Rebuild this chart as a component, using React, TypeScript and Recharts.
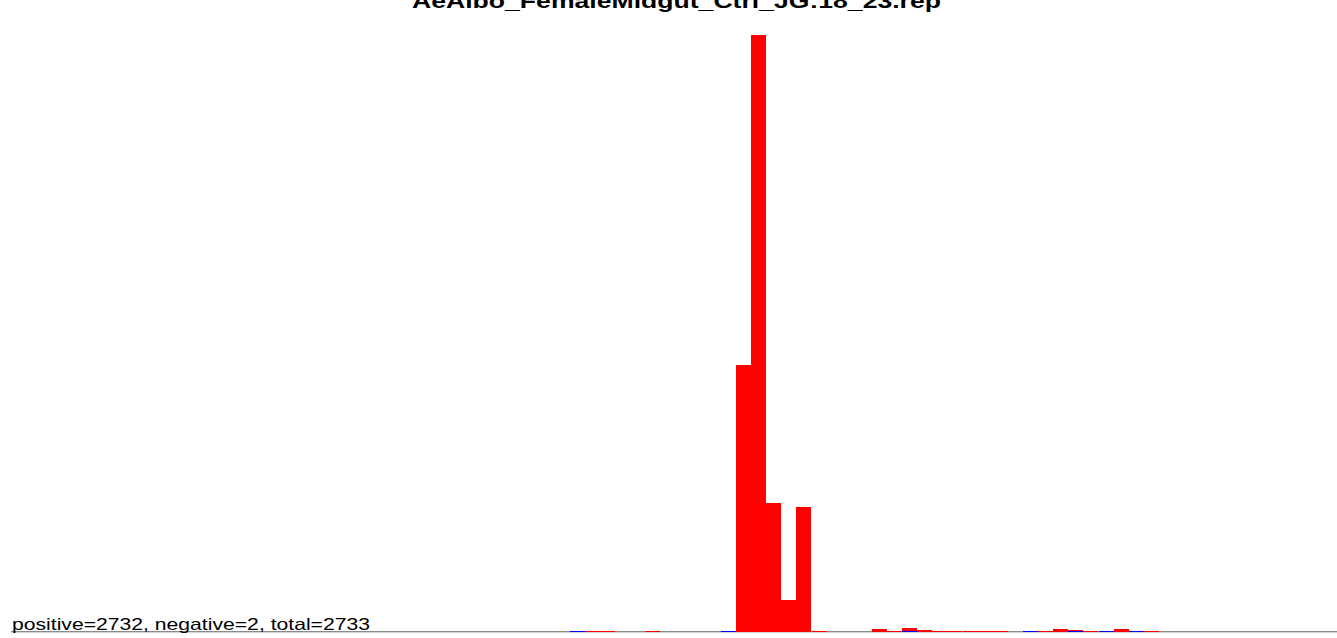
import React from 'react';
import { BarChart, Bar, XAxis, YAxis } from 'recharts';

// Bin counts (red, positive) for 88 equal-width bins
const positiveCounts: number[] = [
  0, 0, 0, 0, 0, 0, 0, 0, 0, 0,
  0, 0, 0, 0, 0, 0, 0, 0, 0, 0,
  0, 0, 0, 0, 0, 0, 0, 0, 0, 0,
  0, 0, 0, 0, 0, 0, 0, 0, 1, 1,
  0, 0, 1, 0, 0, 0, 0, 0, 623, 1395,
  300, 73, 290, 1, 0, 0, 0, 7, 1, 9,
  4, 1, 1, 1, 1, 1, 0, 0, 1, 7,
  4, 1, 0, 7, 0, 1, 0, 0, 0, 0,
  0, 0, 0, 0, 0, 0, 0, 0,
];

// Blue baseline markers
const blueMarks: number[] = [
  0, 0, 0, 0, 0, 0, 0, 0, 0, 0,
  0, 0, 0, 0, 0, 0, 0, 0, 0, 0,
  0, 0, 0, 0, 0, 0, 0, 0, 0, 0,
  0, 0, 0, 0, 0, 0, 0, 1, 0, 0,
  0, 0, 0, 0, 0, 0, 0, 1, 0, 0,
  0, 0, 0, 0, 0, 0, 0, 0, 0, 1,
  0, 0, 0, 0, 0, 0, 0, 1, 0, 0,
  1, 0, 1, 0, 1, 0, 0, 0, 0, 0,
  0, 0, 0, 0, 0, 0, 0, 0,
];

const titleText = 'AeAlbo_FemaleMidgut_Ctrl_JG:18_23.rep';
const summaryText = 'positive=2732, negative=2, total=2733';

const data = positiveCounts.map((v, i) => ({ bin: i, positive: v, marker: blueMarks[i] }));

const BinShape = (props: any) => {
  const { x, y, width, height, fill } = props;
  if (!height || height <= 0 || !isFinite(y)) return null;
  const bottom = y + height;
  const end = Math.ceil(bottom);
  const top = Math.min(Math.round(y), end - 1);
  const left = Math.round(x);
  const right = Math.round(x + width);
  return <rect x={left} y={top} width={right - left} height={end - top} fill={fill} shapeRendering="crispEdges" />;
};

const FONT = '"Liberation Sans", Arial, Helvetica, sans-serif';

export default function App() {
  return (
    <div style={{ position: 'absolute', left: 0, top: 0, width: 1337, height: 638, overflow: 'hidden', background: '#fff' }}>
      <svg style={{ position: 'absolute', left: 0, top: 0 }} width={1337} height={638}>
        <line x1={11} x2={1337} y1={631.5} y2={631.5} stroke="#8a8a8a" strokeWidth={1} />
        <line x1={11} x2={1337} y1={632.5} y2={632.5} stroke="#d4d4d4" strokeWidth={1} />
      </svg>
      <div style={{ position: 'absolute', left: 0, top: 0 }}>
        <BarChart
          width={1341}
          height={638}
          data={data}
          margin={{ top: 35, right: 0.9, left: 11.3, bottom: 6.5 }}
          barCategoryGap={0}
          barGap={0}
        >
          <XAxis xAxisId="red" dataKey="bin" tick={false} tickLine={false} axisLine={false} height={0} />
          <XAxis xAxisId="blue" dataKey="bin" hide />
          <YAxis hide domain={[0, 'dataMax']} />
          <Bar xAxisId="red" dataKey="positive" fill="#ff0000" shape={<BinShape />} isAnimationActive={false} />
          <Bar xAxisId="blue" dataKey="marker" fill="#0000ff" shape={<BinShape />} isAnimationActive={false} />
        </BarChart>
      </div>
      <svg style={{ position: 'absolute', left: 0, top: 0, pointerEvents: 'none' }} width={1337} height={638}>
        <text x={412} y={8} fontFamily={FONT} fontWeight="bold" fontSize={21} fill="#000" textLength={529} lengthAdjust="spacingAndGlyphs">
          {titleText}
        </text>
        <text x={12} y={630} fontFamily={FONT} fontSize={16.5} fill="#000" textLength={358} lengthAdjust="spacingAndGlyphs">
          {summaryText}
        </text>
      </svg>
    </div>
  );
}
